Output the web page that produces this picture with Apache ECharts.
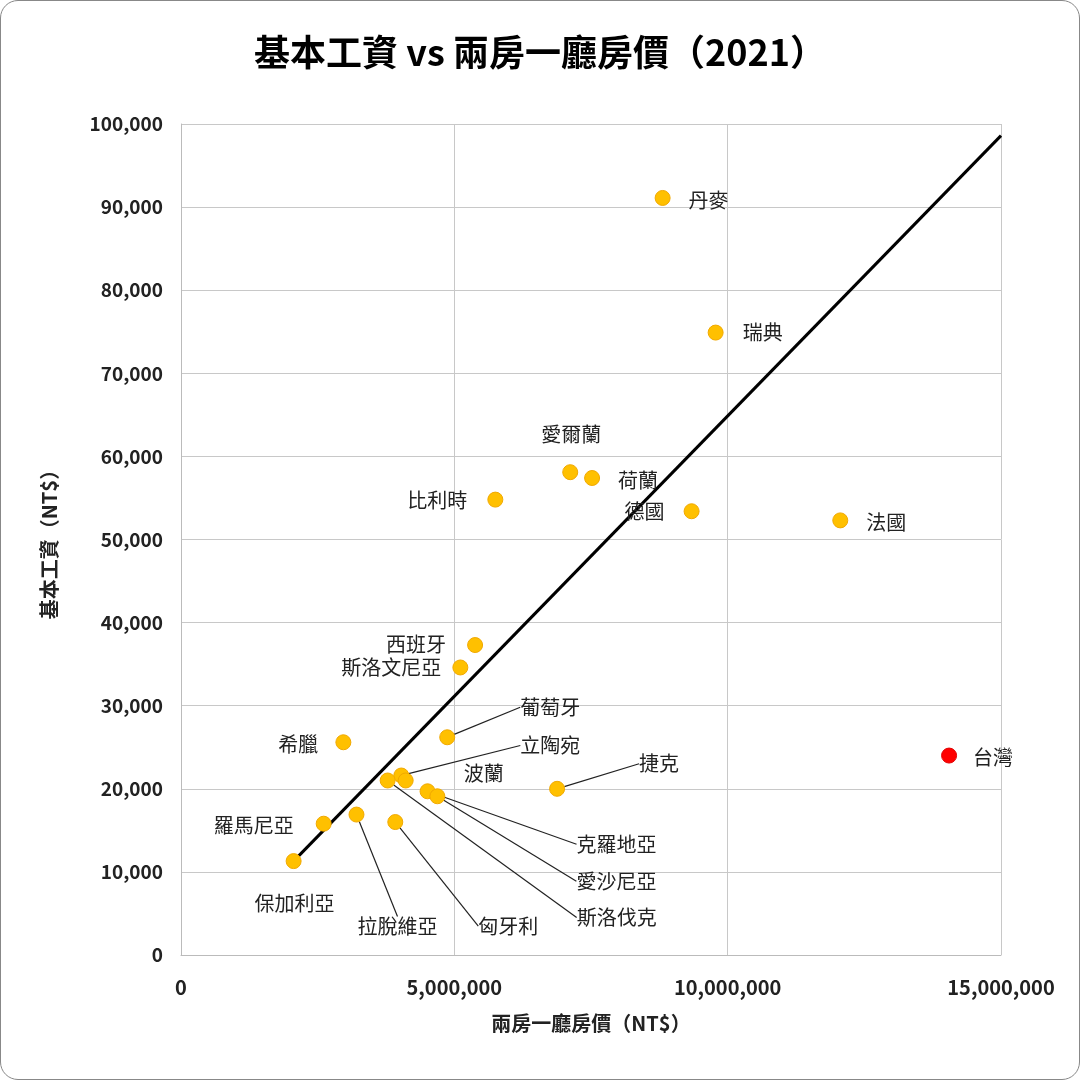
<!DOCTYPE html>
<html>
<head>
<meta charset="utf-8">
<script src="https://cdn.jsdelivr.net/npm/echarts@6/dist/echarts.min.js"></script>
<style>
  html, body { margin: 0; padding: 0; background: #fff; }
  #chart-container { width: 1078px; height: 1078px; border: 1px solid #888; border-radius: 18px; overflow: hidden; }
</style>
</head>
<body>
<div id="chart-container"></div>
<script>
const countries = ['丹麥', '瑞典', '愛爾蘭', '荷蘭', '比利時', '德國', '法國', '西班牙', '斯洛文尼亞', '葡萄牙', '希臘', '台灣', '立陶宛', '波蘭', '斯洛伐克', '捷克', '克羅地亞', '愛沙尼亞', '羅馬尼亞', '拉脫維亞', '匈牙利', '保加利亞'];
const housePrice = [8810000, 9780000, 7120000, 7520000, 5750000, 9340000, 12060000, 5380000, 5110000, 4870000, 2970000, 14050000, 4030000, 4110000, 3780000, 6880000, 4510000, 4690000, 2610000, 3210000, 3920000, 2060000];
const minWage = [91100, 74900, 58100, 57400, 54800, 53400, 52300, 37300, 34600, 26200, 25600, 24000, 21600, 21000, 21000, 20000, 19700, 19100, 15800, 16900, 16000, 11300];
const trendX = [2060000, 15000000];
const trendY = [11300, 98600];

// label offsets from point centre (px) and whether a leader line is drawn
const labelOffset = [[46, 2], [47, 0], [1, -38], [46, 2], [-58, 1], [-47, 0], [46, 2], [-59, -1], [-69, 0], [103, -30], [-45, 2], [44, 2], [149, -30], [78, -7], [229, 137], [102, -25], [189, 53], [179, 85], [-70, 2], [41, 112], [113, 104], [1, 42]];
const leader = [0, 0, 0, 0, 0, 0, 0, 0, 0, 1, 0, 0, 1, 0, 1, 1, 1, 1, 0, 1, 1, 0];

var dom = document.getElementById('chart-container');
var myChart = echarts.init(dom, null, { renderer: 'canvas' });
const font = 'Noto Sans CJK TC';

const points = countries.map((name, i) => ({
  name: name,
  value: [housePrice[i], minWage[i]],
  itemStyle: name === '台灣' ? { color: '#FF0000', borderColor: '#E00000' } : undefined,
  labelLine: { show: !!leader[i] }
}));

var option = {
  textStyle: { fontFamily: font },
  title: {
    text: '基本工資 vs 兩房一廳房價（2021）',
    left: 'center', top: 28,
    textStyle: { fontSize: 36, fontWeight: 'bold', color: '#000', fontFamily: font }
  },
  grid: { left: 180, right: 78, top: 123, bottom: 124 },
  xAxis: {
    type: 'value', min: 0, max: 15000000, interval: 5000000,
    name: '兩房一廳房價（NT$）', nameLocation: 'middle', nameGap: 58,
    nameTextStyle: { fontSize: 20, fontWeight: 'bold', color: '#222' },
    axisLine: { lineStyle: { color: '#bbb' } },
    axisTick: { show: false },
    axisLabel: { fontSize: 20, fontWeight: 'bold', color: '#222', margin: 22 },
    splitLine: { show: true, lineStyle: { color: '#c8c8c8' } }
  },
  yAxis: {
    type: 'value', min: 0, max: 100000, interval: 10000,
    name: '基本工資（NT$）', nameLocation: 'middle', nameGap: 122,
    nameTextStyle: { fontSize: 20, fontWeight: 'bold', color: '#222' },
    axisLine: { show: true, lineStyle: { color: '#bbb' } },
    axisTick: { show: false },
    axisLabel: {
      fontSize: 19, fontWeight: 'bold', color: '#222', margin: 18,
      formatter: v => v.toLocaleString('en-US')
    },
    splitLine: { show: true, lineStyle: { color: '#c8c8c8' } }
  },
  series: [
    {
      type: 'line',
      data: trendX.map((x, i) => [x, trendY[i]]),
      symbol: 'none',
      lineStyle: { color: '#000', width: 3 },
      z: 3
    },
    {
      type: 'scatter',
      data: points,
      symbolSize: 15,
      itemStyle: { color: '#FFC000', borderColor: '#F0A800', borderWidth: 1, opacity: 1 },
      label: {
        show: true, position: 'inside', formatter: '{b}',
        fontSize: 20, color: '#222', fontFamily: font
      },
      labelLine: { lineStyle: { color: '#222', width: 1.2 } },
      labelLayout: p => ({ dx: labelOffset[p.dataIndex][0], dy: labelOffset[p.dataIndex][1] }),
      z: 4
    }
  ]
};

myChart.setOption(option);
window.addEventListener('resize', myChart.resize);
</script>
</body>
</html>
